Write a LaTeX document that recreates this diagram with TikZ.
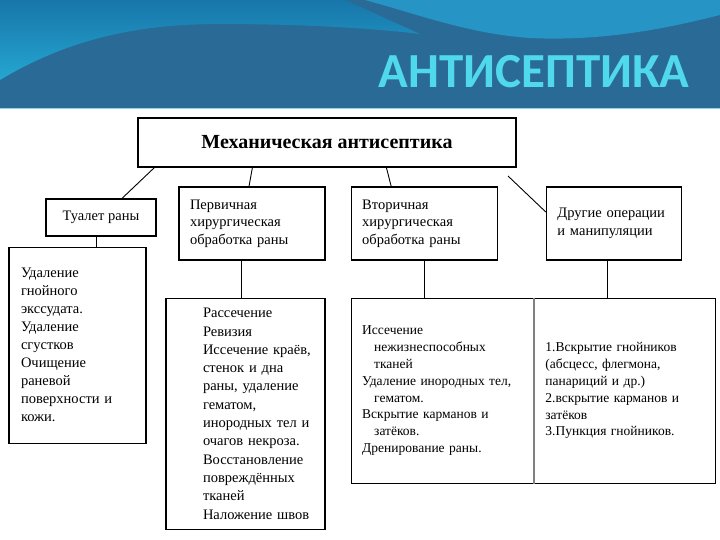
\documentclass[tikz,border=0pt]{standalone}
\usepackage{fontspec}
\setmainfont{Liberation Serif}
\newfontfamily\titlefont{Carlito}
\usetikzlibrary{positioning}

\definecolor{bannerdark}{RGB}{42,106,150}
\definecolor{bannertop}{RGB}{24,118,170}
\definecolor{bannerlight}{RGB}{36,166,208}
\definecolor{bannerright}{RGB}{38,148,196}
\definecolor{titlecyan}{RGB}{80,216,236}

\newcommand{\subln}{\hspace*{12pt}}

\tikzset{
  box/.style={draw, line width=1.2pt, rectangle, inner sep=0pt},
  ubox/.style={box, align=left, text width=124pt, inner xsep=11pt, minimum height=73pt,
    font=\fontsize{14.5}{17.7}\selectfont},
  lbox/.style={box, align=left, font=\fontsize{14.5}{18}\selectfont},
  lpad/.style={execute at begin node={\leftskip=#1\relax}},
  link/.style={line width=0.9pt}
}

\begin{document}
\begin{tikzpicture}[x=1pt, y=-1pt]
\useasboundingbox (0,0) rectangle (720,540);

% Banner
\fill[bannerdark] (0,0) rectangle (720,108);
\shade[top color=bannertop, bottom color=bannerlight] (0,0) -- (0,80) .. controls (70,38) and (140,24) .. (220,24)
  .. controls (300,24) and (370,28) .. (420,34) -- (345,0) -- cycle;
\fill[bannerright] (365,0) .. controls (420,15) and (470,34) .. (530,38)
  .. controls (610,42) and (680,25) .. (720,15) -- (720,0) -- cycle;
\draw[bannerlight!50!white] (0,108) -- (720,108);
\node[anchor=base east, font=\titlefont\bfseries\fontsize{49}{54}\selectfont, text=titlecyan] (title) at (693,88) {АНТИСЕПТИКА};

\node[box, minimum width=378pt, minimum height=49pt, font=\bfseries\fontsize{20}{24}\selectfont] (mech) at (327,142.5) {Механическая антисептика};

% First row
\node[box, minimum width=110pt, minimum height=37pt, font=\fontsize{14.5}{17.7}\selectfont] (tual) at (101,217.5) {Туалет раны};
\node[ubox] (prim) at (252,223.5) {Первичная\\хирургическая\\обработка раны};
\node[ubox, right=25pt of prim] (vtor) {Вторичная\\хирургическая\\обработка раны};
\node[ubox, right=48pt of vtor, text width=113pt] (drug) {Другие операции\\и манипуляции};

% Second row
\node[lbox, text width=113pt, inner xsep=12pt, minimum height=196pt, below=10pt of tual.south west, anchor=north west, xshift=-37pt] (udal) {Удаление\\гнойного\\экссудата.\\Удаление\\сгустков\\Очищение\\раневой\\поверхности и\\кожи.};
\node[lbox, text width=151pt, inner xsep=4pt, minimum height=231pt, lpad=33pt, font=\fontsize{14.5}{18.3}\selectfont, below=37pt of prim.south east, anchor=north east] (rass) {Рассечение\\Ревизия\\Иссечение краёв,\\стенок и дна\\раны, удаление\\гематом,\\инородных тел и\\очагов некроза.\\Восстановление\\повреждённых\\тканей\\Наложение швов};
\node[lbox, text width=160pt, inner xsep=11pt, minimum height=185pt, font=\fontsize{13.5}{16.8}\selectfont, below=37pt of vtor.south west, anchor=north west] (vleft) {Иссечение\\\subln нежизнеспособных\\\subln тканей\\Удаление инородных тел,\\\subln гематом.\\Вскрытие карманов и\\\subln затёков.\\Дренирование раны.};
\node[lbox, text width=159pt, inner xsep=11pt, minimum height=185pt, font=\fontsize{13.5}{16.8}\selectfont, right=0pt of vleft] (vright) {1.Вскрытие гнойников\\(абсцесс, флегмона,\\панариций и др.)\\2.вскрытие карманов и\\затёков\\3.Пункция гнойников.};
\draw[gray, line width=1.5pt] (vleft.north east) -- (vleft.south east);

\coordinate (gap) at (508,176);

\draw[link] ([xshift=17pt]mech.south west) -- ([xshift=21pt]tual.north);
\draw[link] ([xshift=115pt]mech.south west) -- ([xshift=-3pt]prim.north);
\draw[link] ([xshift=249pt]mech.south west) -- ([xshift=-33pt]vtor.north);
\draw[link] (gap) -- ([yshift=11.5pt]drug.west);
\draw[link] ([xshift=-5pt]tual.south) -- ([xshift=-5pt]tual.south |- udal.north);
\draw[link] ([xshift=-11pt]prim.south) -- ([xshift=-11pt]prim.south |- rass.north);
\draw[link] (vtor.south) -- (vtor.south |- vleft.north);
\draw[link] ([xshift=-6pt]drug.south) -- ([xshift=-6pt]drug.south |- vright.north);
\end{tikzpicture}
\end{document}
